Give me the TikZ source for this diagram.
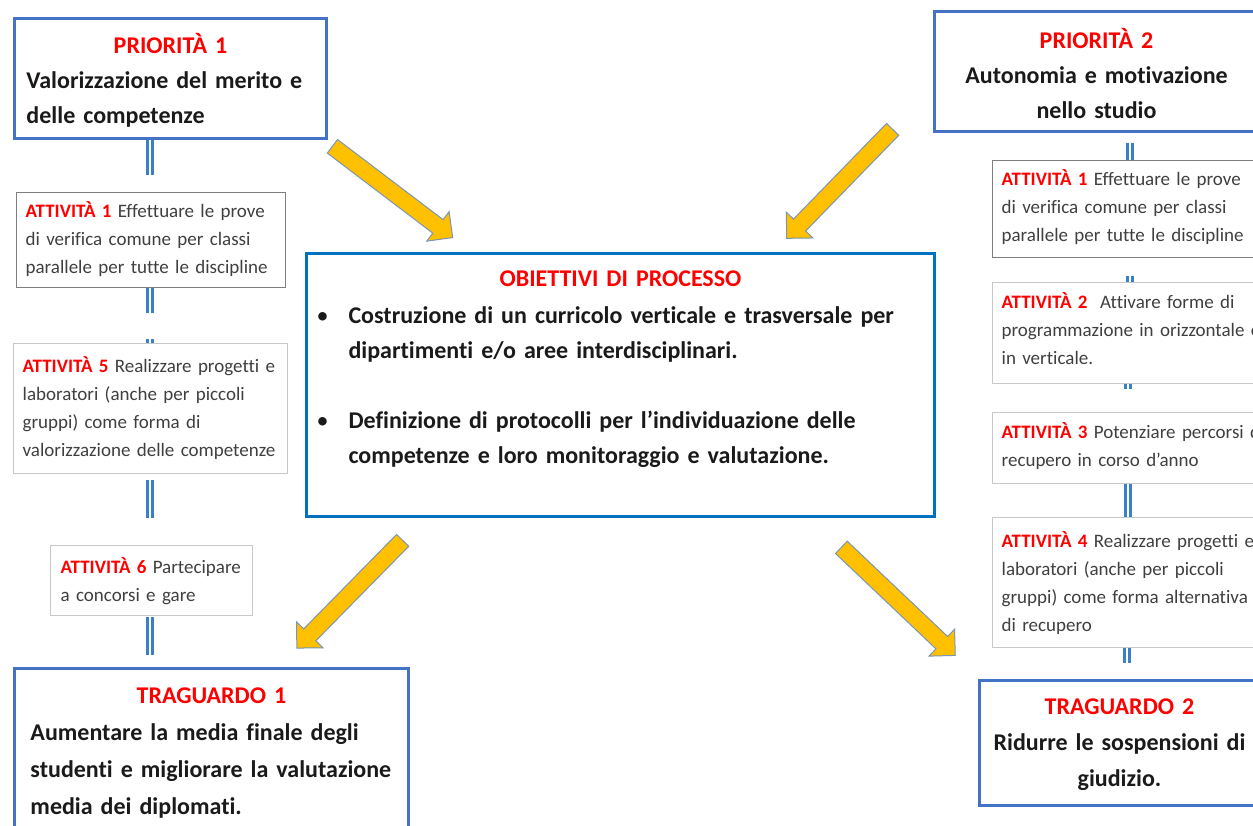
\documentclass[tikz,border=0pt]{standalone}
\usepackage{fontspec}
\setmainfont{Carlito}[Ligatures={TeX,NoCommon}]
\usepackage{tikz}
\usetikzlibrary{shapes.arrows}

\definecolor{boxblue}{HTML}{4472C4}
\definecolor{objblue}{HTML}{0070C0}
\definecolor{actdark}{HTML}{7F7F7F}
\definecolor{actlight}{HTML}{C8C8C8}
\definecolor{lineblue}{HTML}{3A80C8}
\definecolor{arrfill}{HTML}{FFC000}
\definecolor{arredge}{HTML}{7A95B5}
\definecolor{txt}{HTML}{1A1A1A}
\definecolor{acttxt}{HTML}{3F3F3F}

\newcommand{\hd}[1]{\makebox[\hsize]{\textcolor{red}{#1}}}
\newcommand{\att}[1]{\textcolor{red}{\bfseries ATTIVIT\`A #1}}
\newcommand{\bul}{\makebox[28pt][l]{\hspace*{-4pt}\mdseries\textbullet}}

\begin{document}
\begin{tikzpicture}[x=1pt,y=1pt]
    \tikzstyle{mainbox}=[draw=boxblue,line width=3pt,anchor=north west,inner ysep=0pt,
      align=left,text=txt,font=\bfseries\fontsize{24}{35}\selectfont]
    \tikzstyle{actbox}=[draw=actlight,line width=1.3pt,anchor=north west,inner xsep=9pt,inner ysep=0pt,
      align=left,text=acttxt,font=\fontsize{19}{28}\selectfont]
    \tikzstyle{dbl}=[draw=lineblue,line width=2.4pt,double=white,double distance=2.6pt]
    \tikzstyle{yarrow}=[single arrow,draw=arredge,fill=arrfill,line width=1pt,inner xsep=0pt,
      inner ysep=8pt,single arrow head extend=10pt,anchor=tail]
    \useasboundingbox (0,0) rectangle (1253,-825);

    % left column
    \node[mainbox,inner xsep=12pt,text width=288pt,text height=35pt,text depth=85pt] (p1) at (13,-17)
      {\hd{PRIORIT\`A 1}\\Valorizzazione del merito e\\delle competenze};
    \node[actbox,draw=actdark,text width=251pt,text height=25pt,text depth=70pt] (a1l) at (16,-192)
      {\att{1} Effettuare le prove\\di verifica comune per classi\\parallele per tutte le discipline};
    \node[actbox,text width=256pt,text height=29pt,text depth=101pt] (a5l) at (13,-343)
      {\att{5} Realizzare progetti e\\laboratori (anche per piccoli\\gruppi) come forma di\\valorizzazione delle competenze};
    \node[actbox,inner xsep=10pt,text width=182pt,text height=28pt,text depth=42pt] (a6l) at (50,-545)
      {\att{6} Partecipare\\a concorsi e gare};
    \node[mainbox,inner xsep=16pt,text width=362pt,text height=35pt,text depth=170pt,
      font=\bfseries\fontsize{24}{37}\selectfont] (t1) at (13,-667)
      {\hd{TRAGUARDO 1}\\Aumentare la media finale degli\\studenti e migliorare la valutazione\\media dei diplomati.};

    % centre
    \node[mainbox,draw=objblue,inner xsep=14pt,text width=600pt,text height=33pt,text depth=230pt] (obj) at (305,-252)
      {\hd{OBIETTIVI DI PROCESSO}\\[2pt]
       \bul Costruzione di un curricolo verticale e trasversale per\\
       \hspace*{28pt}dipartimenti e/o aree interdisciplinari.\\[35pt]
       \bul Definizione di protocolli per l'individuazione delle\\
       \hspace*{28pt}competenze e loro monitoraggio e valutazione.};

    % right column
    \node[mainbox,align=center,inner xsep=9pt,text width=306pt,text height=37pt,text depth=83pt] (p2) at (933,-10)
      {\textcolor{red}{PRIORIT\`A 2}\\Autonomia e motivazione\\nello studio};
    \node[actbox,draw=actdark,text width=300pt,text height=25pt,text depth=72pt] (a1r) at (992,-160)
      {\att{1} Effettuare le prove\\di verifica comune per classi\\parallele per tutte le discipline};
    \node[actbox,text width=300pt,text height=26pt,text depth=75pt] (a2r) at (992,-282)
      {\att{2}\ \ Attivare forme di\\programmazione in orizzontale e\\in verticale.};
    \node[actbox,text width=300pt,text height=26pt,text depth=45pt] (a3r) at (992,-412)
      {\att{3} Potenziare percorsi di\\recupero in corso d’anno};
    \node[actbox,text width=300pt,text height=30pt,text depth=100pt] (a4r) at (992,-517)
      {\att{4} Realizzare progetti e\\laboratori (anche per piccoli\\gruppi) come forma alternativa\\di recupero};
    \node[mainbox,align=center,inner xsep=9pt,text width=262pt,text height=34pt,text depth=91pt,
      font=\bfseries\fontsize{24}{36}\selectfont] (t2) at (978,-679)
      {\textcolor{red}{TRAGUARDO 2}\\Ridurre le sospensioni di\\giudizio.};

    % double links
    \coordinate (l1) at (150,-175);
    \coordinate (l2) at (150,-313);
    \coordinate (l3) at (150,-339);
    \coordinate (l4a) at (150,-480);
    \coordinate (l4b) at (150,-518);
    \coordinate (l5a) at (150,-617);
    \coordinate (l5b) at (150,-655);
    \coordinate (r1) at (1130,-143);
    \coordinate (r2) at (1130,-276);
    \coordinate (r3) at (1128,-389);
    \coordinate (r4) at (1128,-500);
    \coordinate (r5) at (1127,-663);
    \draw[dbl] (l1 |- p1.south) -- (l1);
    \draw[dbl] (l2 |- a1l.south) -- (l2);
    \draw[dbl] (l3) -- (l3 |- a5l.north);
    \draw[dbl] (l4a) -- (l4b);
    \draw[dbl] (l5a) -- (l5b);
    \draw[dbl] (r1) -- (r1 |- a1r.north);
    \draw[dbl] (r2) -- (r2 |- a2r.north);
    \draw[dbl] (r3 |- a2r.south) -- (r3);
    \draw[dbl] (r4 |- a3r.south) -- (r4 |- a4r.north);
    \draw[dbl] (r5 |- a4r.south) -- (r5);

    % yellow arrows
    \coordinate (y1) at (332,-146);
    \coordinate (y2) at (893,-129);
    \coordinate (y3) at (403,-540);
    \coordinate (y4) at (841,-547);
    \node[yarrow,rotate=-37.2,minimum height=151pt] (ar1) at (y1) {};
    \node[yarrow,rotate=-134.2,minimum height=152pt] (ar2) at (y2) {};
    \node[yarrow,rotate=-134.5,minimum height=151pt] (ar3) at (y3) {};
    \node[yarrow,rotate=-43.5,minimum height=157pt] (ar4) at (y4) {};
\end{tikzpicture}
\end{document}
